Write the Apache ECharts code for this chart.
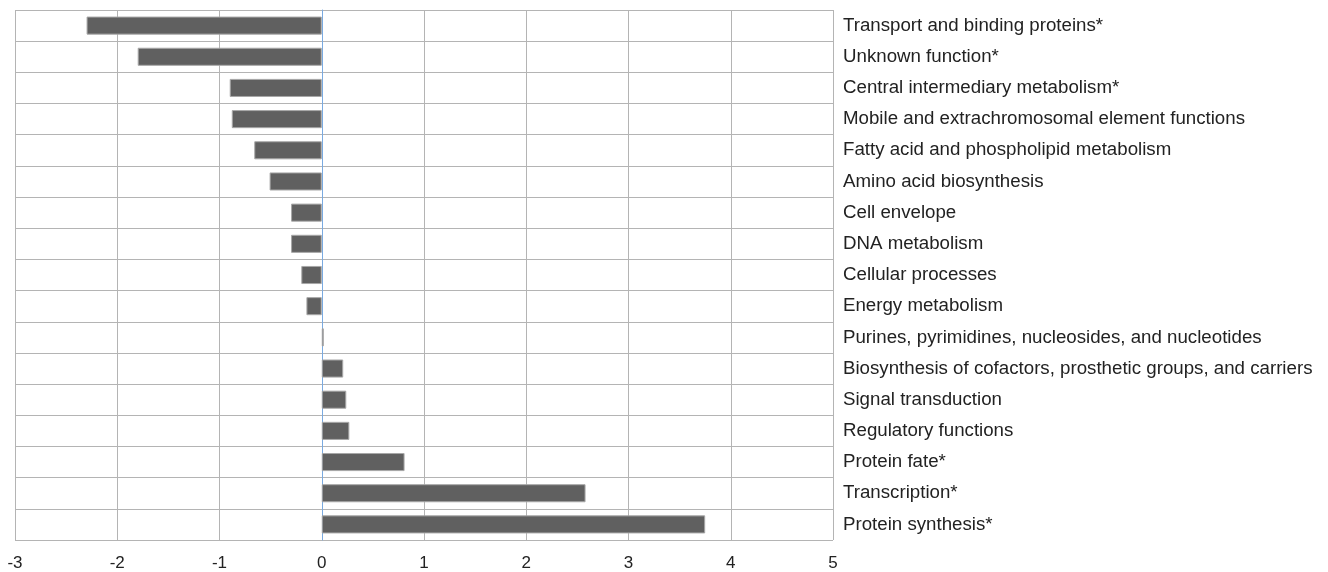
<!DOCTYPE html>
<html>
<head>
<meta charset="utf-8">
<script src="https://cdn.jsdelivr.net/npm/echarts@6/dist/echarts.min.js"></script>
<style>
  html, body { margin: 0; padding: 0; background: #fff; }
  #chart { width: 1328px; height: 572px; }
</style>
</head>
<body>
<div id="chart"></div>
<script>
const categories = [
  'Transport and binding proteins*',
  'Unknown function*',
  'Central intermediary metabolism*',
  'Mobile and extrachromosomal element functions',
  'Fatty acid and phospholipid metabolism',
  'Amino acid biosynthesis',
  'Cell envelope',
  'DNA metabolism',
  'Cellular processes',
  'Energy metabolism',
  'Purines, pyrimidines, nucleosides, and nucleotides',
  'Biosynthesis of cofactors, prosthetic groups, and carriers',
  'Signal transduction',
  'Regulatory functions',
  'Protein fate*',
  'Transcription*',
  'Protein synthesis*'
];
const values = [-2.3, -1.8, -0.9, -0.88, -0.66, -0.51, -0.3, -0.3, -0.2, -0.15,
  0.02, 0.21, 0.24, 0.27, 0.81, 2.58, 3.75];

const chart = echarts.init(document.getElementById('chart'));
chart.setOption({
  animation: false,
  grid: { left: 15, right: 495, top: 10, bottom: 31, containLabel: false },
  xAxis: {
    type: 'value',
    min: -3,
    max: 5,
    interval: 1,
    axisLine: { show: false },
    axisTick: { show: false },
    axisLabel: { fontFamily: 'Liberation Sans', fontSize: 17, color: '#222', margin: 15 },
    splitLine: { lineStyle: { color: '#b4b4b4', width: 1 } }
  },
  yAxis: {
    type: 'category',
    data: categories,
    inverse: true,
    position: 'right',
    axisLine: { show: true, onZero: true, lineStyle: { color: '#7aaae0', width: 1 } },
    axisTick: { show: false },
    axisLabel: { fontFamily: 'Liberation Sans', fontSize: 18.7, color: '#222', margin: 10 },
    splitLine: { show: true, lineStyle: { color: '#b4b4b4', width: 1 } }
  },
  series: [{
    type: 'bar',
    data: values,
    barWidth: '58%',
    itemStyle: { color: '#606060', borderColor: '#a8a8a8', borderWidth: 1 }
  }]
});
</script>
</body>
</html>
